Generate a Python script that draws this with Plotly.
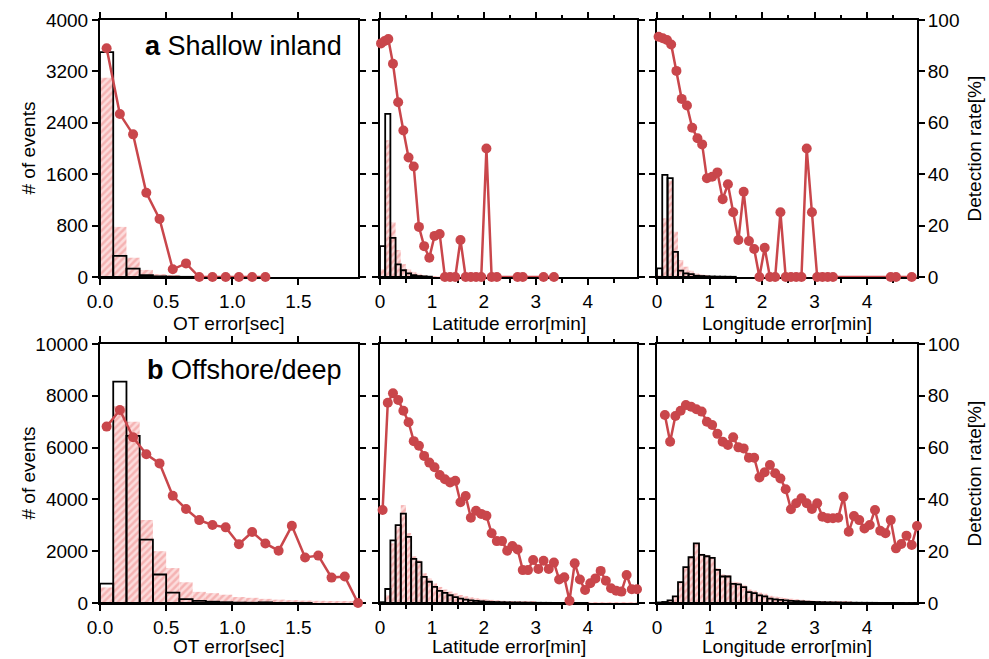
import plotly.graph_objects as go

# ---------------------------------------------------------------- data
BIN = 0.1  # histogram bin width (sec / min)

# (a) shallow inland -------------------------------------------------
a_ot_black = [3500, 330, 130, 30, 10, 5, 3, 2]
a_ot_pink = [3100, 780, 300, 110, 45, 25, 15, 8, 5, 3]
a_ot_rate_x = [0.05, 0.15, 0.25, 0.35, 0.45, 0.55, 0.65, 0.75, 0.85, 0.95, 1.05, 1.15, 1.25]
a_ot_rate = [89, 63.4, 55.5, 32.8, 22.6, 3, 5.3, 0, 0, 0, 0, 0, 0]

a_lat_black = [480, 2540, 610, 195, 105, 55, 30, 15, 10, 5]
a_lat_pink = [120, 2130, 850, 420, 200, 120, 80, 50, 30, 15, 8, 5]
a_lat_rate_x = [0.02, 0.09, 0.16, 0.25, 0.35, 0.45, 0.55, 0.65, 0.75, 0.85, 0.95, 1.05,
                1.15, 1.25, 1.35, 1.45, 1.55, 1.65, 1.75, 1.85, 1.95, 2.05, 2.15, 2.25,
                2.65, 2.75, 3.15, 3.35]
a_lat_rate = [90.9, 91.8, 92.6, 83, 68, 57, 46.5, 43, 19.5, 12, 7.5, 16,
              16.7, 0, 0, 0, 14.4, 0, 0, 0, 0, 50, 0, 0,
              0, 0, 0, 0]

a_lon_black = [135, 1590, 1540, 390, 100, 57, 45, 20, 15, 10, 8, 6, 5, 4, 3]
a_lon_pink = [20, 913, 1500, 705, 265, 160, 98, 57, 40, 25, 15, 10, 8, 5, 3]
a_lon_rate_x = [0.03, 0.11, 0.19, 0.27, 0.37, 0.47, 0.57, 0.67, 0.77, 0.86, 0.95, 1.05,
                1.15, 1.25, 1.35, 1.45, 1.55, 1.65, 1.75, 1.85, 1.95, 2.05, 2.15, 2.25,
                2.35, 2.45, 2.55, 2.65, 2.75, 2.85, 2.95, 3.05, 3.15, 3.25, 3.35,
                4.45, 4.55, 4.85]
a_lon_rate = [93.5, 92.9, 92.2, 90.5, 80.2, 69.3, 66.7, 58.1, 54, 51.6, 38.4, 39,
              40.7, 30.3, 36.1, 25.2, 14.4, 33.2, 14, 10.9, 0, 11.4, 0, 0,
              25.2, 0, 0, 0, 0, 50, 25.2, 0, 0, 0, 0,
              0, 0, 0]

# (b) offshore / deep ------------------------------------------------
b_ot_black = [750, 8550, 6450, 2450, 1100, 400, 150, 80, 50, 30, 15, 10, 25, 5, 3, 2]
b_ot_pink = [600, 7600, 7000, 3200, 2000, 1350, 800, 430, 380, 320, 230, 200, 160, 130,
             110, 95, 85, 75, 65, 55]
b_ot_rate_x = [0.05, 0.15, 0.25, 0.35, 0.45, 0.55, 0.65, 0.75, 0.85, 0.95,
               1.05, 1.15, 1.25, 1.35, 1.45, 1.55, 1.65, 1.75, 1.85, 1.95]
b_ot_rate = [68.1, 74.5, 64, 57.4, 53.9, 41.4, 36.3, 32, 30.1, 29.2,
             22.7, 27.4, 23, 20.2, 29.8, 17.6, 18.3, 9.8, 10.2, 0]

b_lat_black = [30, 540, 2420, 3010, 3450, 2550, 1700, 1580, 1010, 820, 620, 470, 390, 300,
               230, 170, 130, 100, 80, 65, 50, 40, 35, 30, 25, 20, 18, 15, 12, 10, 8, 7,
               6, 5, 5, 4, 4, 3, 3, 3]
b_lat_pink = [0, 300, 2300, 2950, 3780, 2700, 1800, 1650, 1150, 950, 760, 620, 520, 440,
              370, 310, 260, 220, 190, 160, 140, 120, 105, 90, 80, 70, 62, 55, 48, 42, 37,
              33, 29, 26, 23, 20, 18, 16, 14, 12, 11, 10, 9, 8, 7, 6, 5, 5, 4, 4]
b_lat_rate = [35.9, 77.3, 81, 78.4, 74.2, 69.8, 62.5, 60.7, 56.8, 54.2,
              52.4, 49.4, 47.8, 46.5, 47.2, 38.9, 41.3, 32.9, 35.6, 34.4,
              33.7, 26.9, 23.9, 23.9, 20.2, 22, 20.7, 12.7, 12.7, 16.6,
              13.1, 16.3, 13.1, 15.6, 9.1, 9.9, 0.9, 15.3, 9.1, 5,
              7.6, 9.5, 12.4, 8.6, 5.7, 4.7, 4.4, 10.8, 5.3, 5.3]

b_lon_black = [20, 40, 100, 256, 806, 1382, 1766, 2304, 1856, 1805, 1741, 1280, 1024, 1024,
               742, 717, 614, 422, 384, 294, 256, 166, 140, 120, 100, 85, 70, 60, 50, 42,
               36, 30, 25, 22, 18, 15, 13, 11, 9, 8, 7, 6, 5, 4, 4, 3, 3, 2, 2, 2]
b_lon_pink = [10, 30, 90, 250, 780, 1350, 1800, 2280, 1900, 1850, 1780, 1350, 1100, 1080,
              820, 800, 700, 520, 480, 400, 360, 280, 250, 220, 190, 165, 145, 125, 110,
              95, 85, 75, 65, 58, 50, 45, 40, 35, 30, 27, 24, 21, 18, 16, 14, 12, 10, 9,
              8, 7]
b_lon_rate = [72.6, 62.3, 72.2, 74.2, 76.4, 75.8, 74.8, 73.9, 70, 68.7,
              65.3, 62.3, 61, 64, 60.1, 59.7, 56.1, 56.1, 48.5, 50.5,
              53.3, 50.1, 48.1, 43.9, 36.2, 38.5, 40.4, 38.5, 36.3, 38.5,
              33.3, 32.7, 32.7, 32.9, 41, 27.5, 33.6, 32, 28.8, 30.1,
              35.9, 27.9, 26.9, 32, 21.1, 22.8, 26, 22.4, 29.7]

x_titles = ["OT error[sec]", "Latitude error[min]", "Longitude error[min]"]
count_max = [4000, 10000]
panel_labels = ["<b>a</b> Shallow inland", "<b>b</b> Offshore/deep"]


def bin_centers(n, first=0):
    """Centres of n consecutive histogram bins starting at bin index `first`."""
    return [round((first + k + 0.5) * BIN, 3) for k in range(n)]


panels = [
    (a_ot_black, a_ot_pink, a_ot_rate_x, a_ot_rate),
    (a_lat_black, a_lat_pink, a_lat_rate_x, a_lat_rate),
    (a_lon_black, a_lon_pink, a_lon_rate_x, a_lon_rate),
    (b_ot_black, b_ot_pink, b_ot_rate_x, b_ot_rate),
    (b_lat_black, b_lat_pink, bin_centers(len(b_lat_rate)), b_lat_rate),
    (b_lon_black, b_lon_pink, bin_centers(len(b_lon_rate), 1), b_lon_rate),
]

# ---------------------------------------------------------------- styling
W, H = 989, 659
FONT = "Liberation Sans, Arial, Helvetica, sans-serif"
FS = 19
RED = "#c9464b"
COLS = [(100, 358), (380, 637), (657, 917)]   # panel edges, px
ROWS = [(20, 277), (344, 603)]
TITLE_GAP = [46, 43]                           # x-title offset below each row, px
X_RANGE = [[0, 1.95], [0, 4.95], [0, 4.95]]

fig = go.Figure()
layout = dict(
    width=W, height=H,
    margin=dict(l=0, r=0, t=0, b=0, pad=0, autoexpand=False),
    paper_bgcolor="white", plot_bgcolor="white",
    barmode="overlay", showlegend=False,
    font=dict(family=FONT, size=FS, color="black"),
)

for i, (black, pink, rx, ry) in enumerate(panels):
    r, c = divmod(i, 3)
    n = i + 1
    xa, ya, yb = f"x{n}", f"y{n}", f"y{n + 6}"
    x0, x1 = COLS[c]
    y0, y1 = ROWS[r]

    fig.add_trace(go.Bar(
        x=bin_centers(len(pink)), y=pink, width=BIN, xaxis=xa, yaxis=ya,
        marker=dict(color="#fbd6d6", line=dict(width=0),
                    pattern=dict(shape="/", fgcolor="#ee8a8a", bgcolor="#fcdcdc",
                                 size=5, solidity=0.5)),
    ))
    fig.add_trace(go.Bar(
        x=bin_centers(len(black)), y=black, width=BIN, xaxis=xa, yaxis=ya,
        marker=dict(color="rgba(0,0,0,0)", line=dict(color="black", width=1.8)),
    ))
    fig.add_trace(go.Scatter(
        x=rx, y=ry, xaxis=xa, yaxis=yb, mode="lines+markers", cliponaxis=False,
        line=dict(color=RED, width=2.5), marker=dict(color=RED, size=10),
    ))

    common = dict(showline=True, linecolor="black", linewidth=2, ticks="outside",
                  ticklen=6, tickwidth=1.5, tickcolor="black", showgrid=False,
                  zeroline=False, layer="below traces", automargin=False,
                  tickfont=dict(family=FONT, size=FS))
    xdef = dict(common, domain=[x0 / W, x1 / W], anchor=ya, range=X_RANGE[c],
                mirror="ticks")
    if c == 0:
        xdef.update(tick0=0, dtick=0.5, tickformat=".1f")
    else:
        xdef.update(tick0=0, dtick=1,
                    minor=dict(dtick=0.5, ticks="outside", ticklen=3.5,
                               tickwidth=1.5, tickcolor="black"))
    layout["xaxis" if n == 1 else f"xaxis{n}"] = xdef

    layout[f"yaxis{n}" if n > 1 else "yaxis"] = dict(
        common, domain=[1 - y1 / H, 1 - y0 / H], anchor=xa,
        range=[0, count_max[r]], dtick=count_max[r] / 5, tickformat="d",
        mirror="ticks", showticklabels=(c == 0))
    layout[f"yaxis{n + 6}"] = dict(
        common, overlaying=ya, side="right", anchor=xa, range=[0, 100], dtick=20,
        showline=False, showticklabels=(c == 2))

annotations = []
for r in range(2):
    y0, y1 = ROWS[r]
    for c in range(3):
        x0, x1 = COLS[c]
        annotations.append(dict(
            text=x_titles[c], x=(x0 + x1) / 2 / W, y=1 - (y1 + TITLE_GAP[r]) / H,
            xanchor="center", yanchor="middle",
            xref="paper", yref="paper", showarrow=False,
            font=dict(family=FONT, size=FS)))
    annotations.append(dict(
        text="# of events", x=28 / W, y=1 - (y0 + y1) / 2 / H, textangle=-90,
        xanchor="center", yanchor="middle",
        xref="paper", yref="paper", showarrow=False, font=dict(family=FONT, size=FS)))
    annotations.append(dict(
        text="Detection rate[%]", x=974 / W, y=1 - (y0 + y1) / 2 / H, textangle=-90,
        xanchor="center", yanchor="middle",
        xref="paper", yref="paper", showarrow=False, font=dict(family=FONT, size=FS)))
    annotations.append(dict(
        text=panel_labels[r], x=344 / W, y=1 - (y0 + 26) / H,
        xanchor="right", yanchor="middle",
        xref="paper", yref="paper", showarrow=False, font=dict(family=FONT, size=27)))
layout["annotations"] = annotations

fig.update_layout(**layout)
fig.write_html("out.html", config={"displayModeBar": False})
